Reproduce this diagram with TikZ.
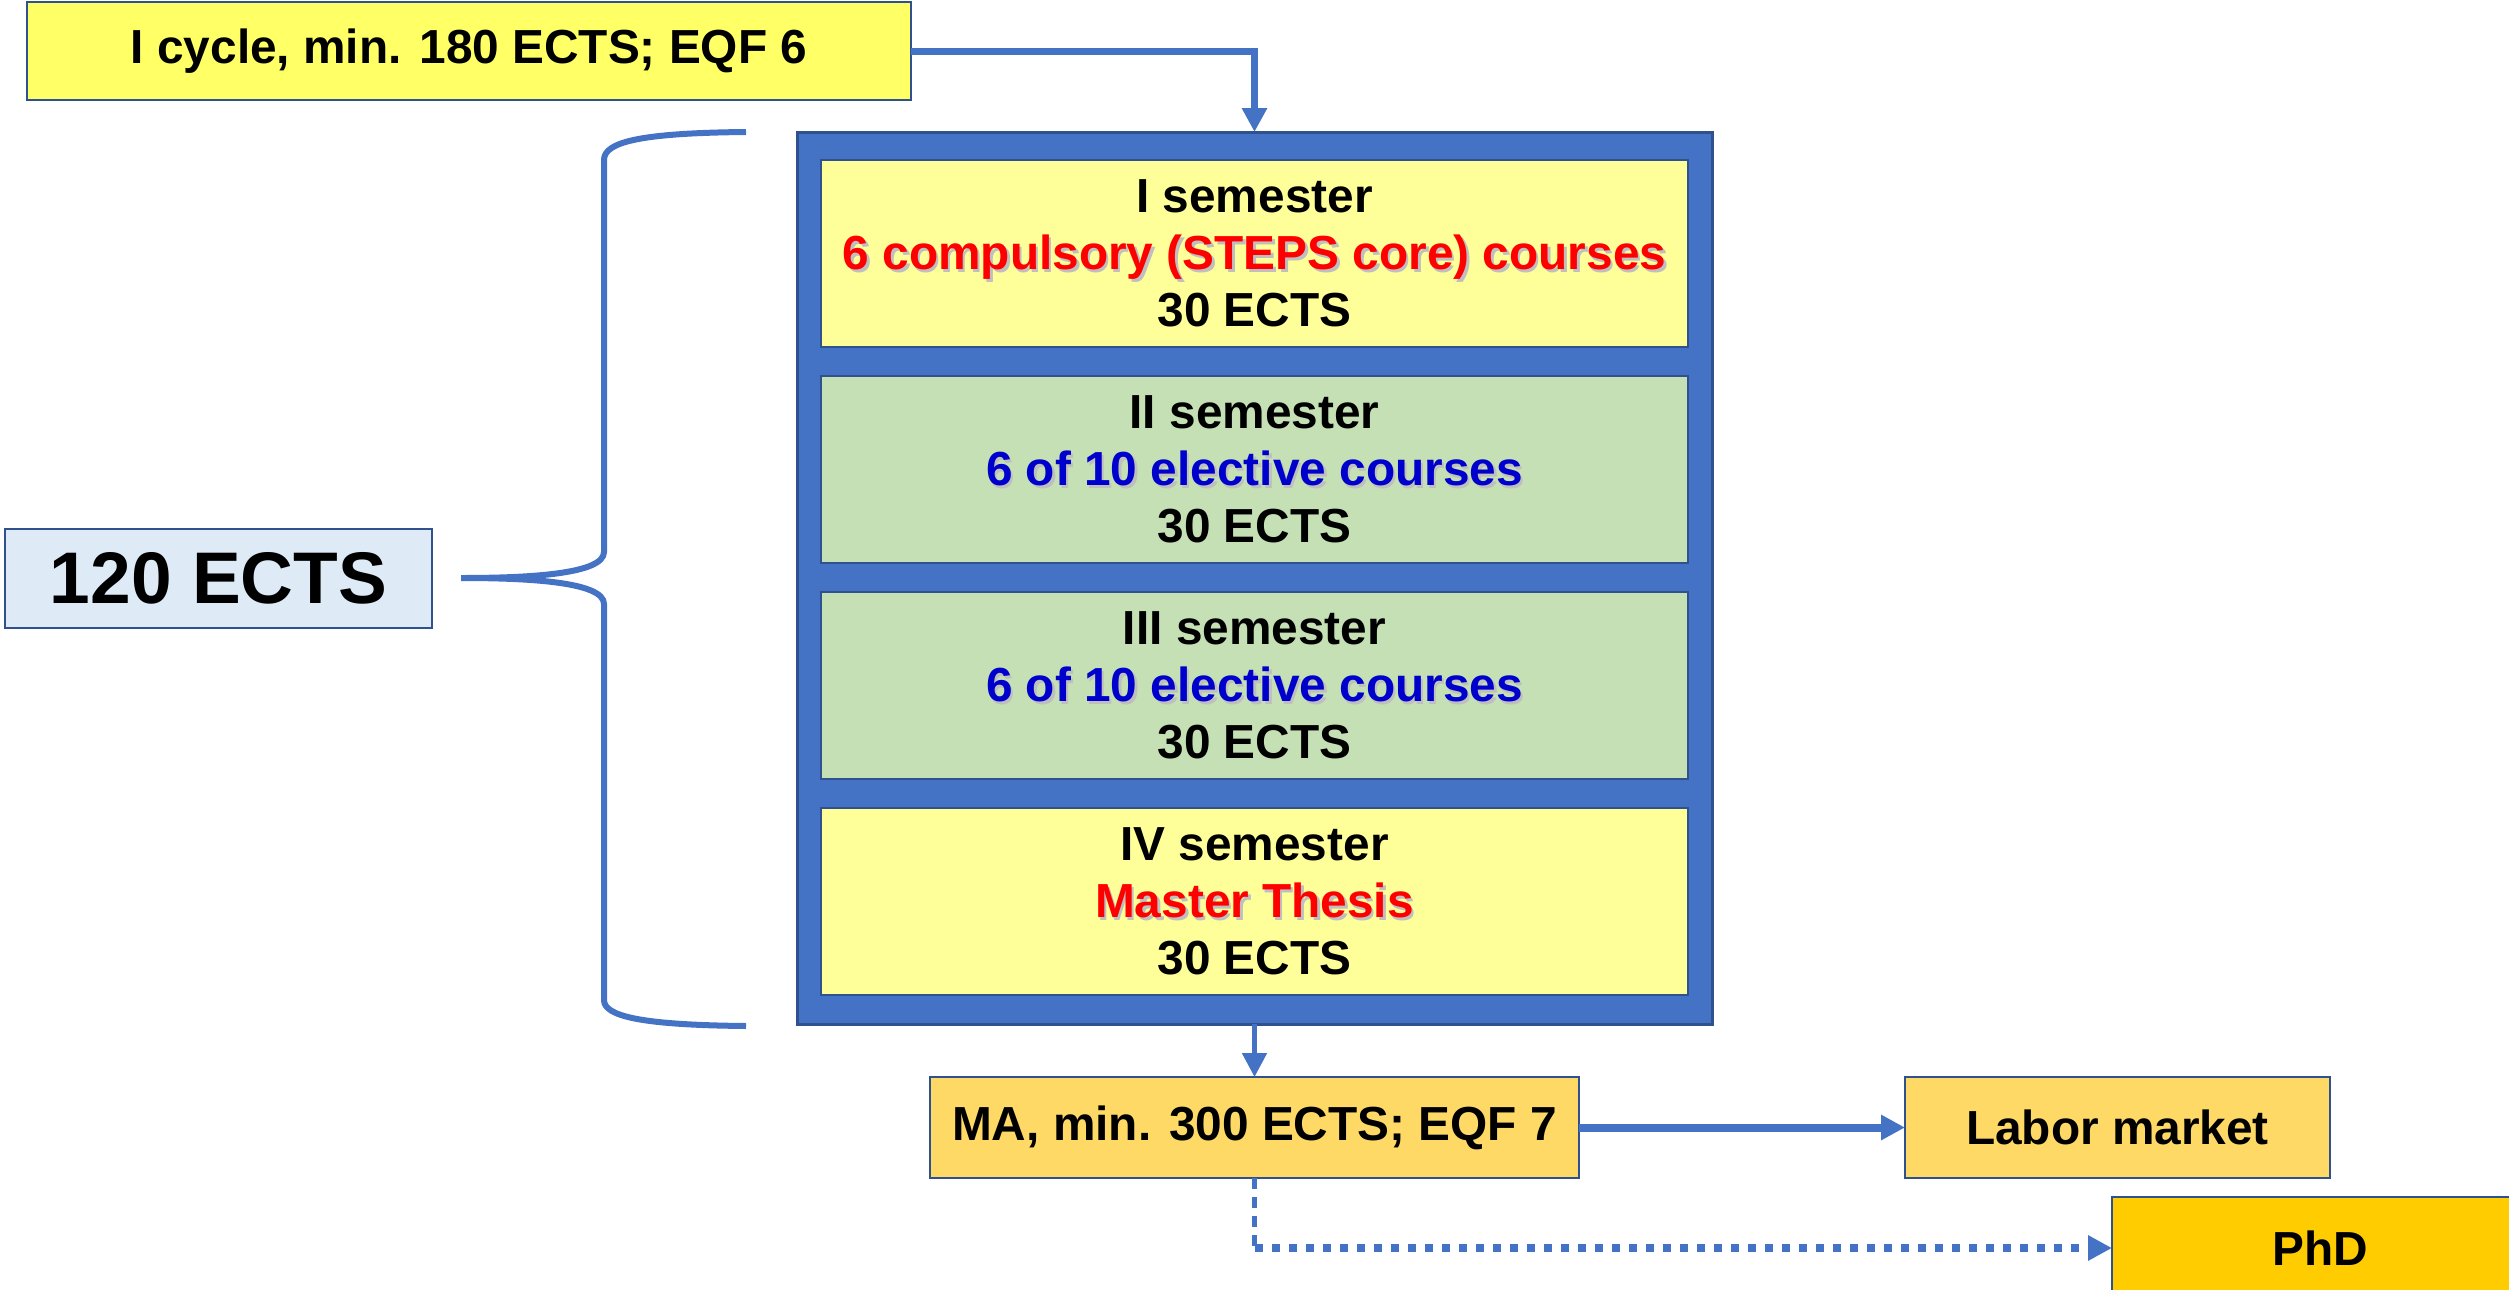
\documentclass[tikz,border=0pt]{standalone}
\usepackage{fontspec}
\setmainfont{Liberation Sans}
\usetikzlibrary{arrows.meta,positioning}

\definecolor{ppblue}{HTML}{4472C4}
\definecolor{ppedge}{HTML}{2F528F}
\definecolor{ppyellow}{HTML}{FFFF66}
\definecolor{pppale}{HTML}{FFFF99}
\definecolor{ppgreen}{HTML}{C5E0B4}
\definecolor{ppgold}{HTML}{FFD966}
\definecolor{ppamber}{HTML}{FFCC00}
\definecolor{ppsky}{HTML}{DEEBF7}
\definecolor{ppred}{HTML}{FF0000}
\definecolor{ppnavy}{HTML}{0000CC}
\newcommand\shadowed[2]{\makebox[0pt][l]{\kern0.25mm\raisebox{-0.25mm}{\color{black!25}#2}}{\color{#1}#2}}

\begin{document}
\begin{tikzpicture}[x=0.1mm,y=-0.1mm,
	box/.style={draw=ppedge,line width=0.2mm,outer sep=0pt,align=center,font=\bfseries\fontsize{13.6}{16.2}\selectfont},
	sem/.style={box,minimum width=86.7mm,minimum height=18.7mm},
	link/.style={ppblue,line width=0.6mm,-{Triangle[length=2.4mm,width=2.4mm]}}]
	\clip (0,0) rectangle (2509,1289);
	\node[box,fill=ppyellow,minimum width=88.4mm,minimum height=9.8mm] (cycle) at (469,51) {I cycle, min. 180 ECTS; EQF 6};
	\node[draw=ppedge,line width=0.3mm,fill=ppblue,outer sep=0pt,minimum width=91.5mm,minimum height=89.2mm] (frame) at (1254.5,578) {};
	\node[sem,fill=pppale] (sem1) at (1254.5,253.5) {I semester\\\shadowed{ppred}{6 compulsory (STEPS core) courses}\\30 ECTS};
	\node[sem,fill=ppgreen,below=2.9mm of sem1] (sem2) {II semester\\\shadowed{ppnavy}{6 of 10 elective courses}\\30 ECTS};
	\node[sem,fill=ppgreen,below=2.9mm of sem2] (sem3) {III semester\\\shadowed{ppnavy}{6 of 10 elective courses}\\30 ECTS};
	\node[sem,fill=pppale,below=2.9mm of sem3] (sem4) {IV semester\\\shadowed{ppred}{Master Thesis}\\30 ECTS};
	\node[box,fill=ppsky,minimum width=42.7mm,minimum height=9.9mm,font=\bfseries\fontsize{20.8}{25}\selectfont] (total) at (218.5,578) {120 ECTS};
	\node[box,fill=ppgold,minimum width=64.9mm,minimum height=10.1mm] (ma) at (1254.5,1127.5) {MA, min. 300 ECTS; EQF 7};
	\node[box,fill=ppgold,minimum width=42.5mm,minimum height=10.1mm] (labor) at (2117.5,1127.5) {Labor market};
	\node[box,fill=ppamber,minimum width=41.6mm,minimum height=10.2mm] (phd) at (2320,1248) {PhD};

	\coordinate (tip) at ([xshift=2.9mm]total.east);
	\draw[ppblue,line width=0.6mm] (746,132) .. controls (640,133) and (604,142) .. (604,160) -- (604,552)
		.. controls (604,574) and (530,578) .. (tip) .. controls (530,578) and (604,582) .. (604,604)
		-- (604,1000) .. controls (604,1016) and (640,1025) .. (746,1026);

	\draw[link,line width=0.7mm] (cycle.east) -| (frame.north);
	\draw[link,line width=0.5mm] (frame.south) -- (ma.north);
	\draw[link,line width=0.8mm] (ma.east) -- (labor.west);
	\coordinate (dip) at (1254.5,1248);
	\draw[ppblue,line width=0.5mm,dash pattern=on 1.1mm off 0.8mm] (ma.south) -- (dip);
	\draw[link,line width=0.8mm,dash pattern=on 0.8mm off 0.9mm] (dip) -- (phd.west);
\end{tikzpicture}
\end{document}
